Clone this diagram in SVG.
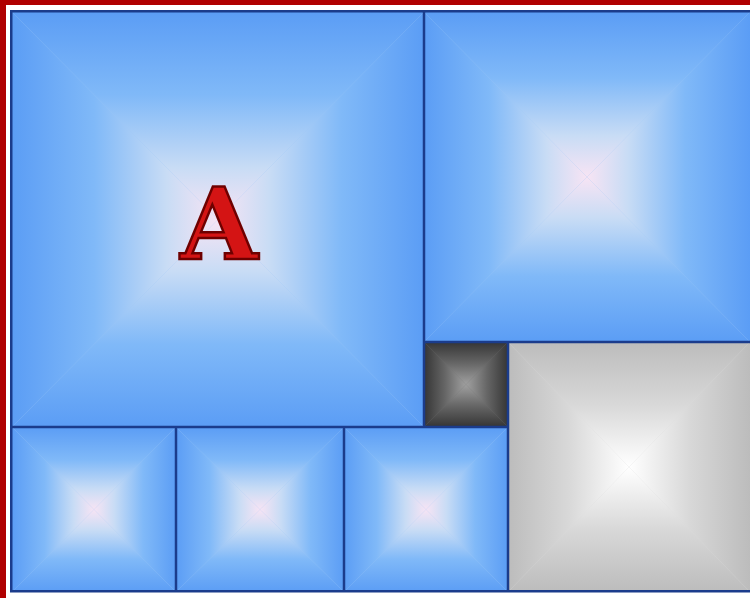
<svg xmlns="http://www.w3.org/2000/svg" width="750" height="598" viewBox="0 0 750 598">
<defs>
<linearGradient id="bT" x1="0" y1="0" x2="0" y2="1"><stop offset="0" stop-color="#5b9df5"/><stop offset="0.4" stop-color="#80b9f8"/><stop offset="0.75" stop-color="#c8dcf5"/><stop offset="1" stop-color="#f7e4f4"/></linearGradient>
<linearGradient id="bB" x1="0" y1="1" x2="0" y2="0"><stop offset="0" stop-color="#5b9df5"/><stop offset="0.4" stop-color="#80b9f8"/><stop offset="0.75" stop-color="#c8dcf5"/><stop offset="1" stop-color="#f7e4f4"/></linearGradient>
<linearGradient id="bL" x1="0" y1="0" x2="1" y2="0"><stop offset="0" stop-color="#5b9df5"/><stop offset="0.4" stop-color="#80b9f8"/><stop offset="0.75" stop-color="#c8dcf5"/><stop offset="1" stop-color="#f7e4f4"/></linearGradient>
<linearGradient id="bR" x1="1" y1="0" x2="0" y2="0"><stop offset="0" stop-color="#5b9df5"/><stop offset="0.4" stop-color="#80b9f8"/><stop offset="0.75" stop-color="#c8dcf5"/><stop offset="1" stop-color="#f7e4f4"/></linearGradient>
<linearGradient id="gT" x1="0" y1="0" x2="0" y2="1"><stop offset="0" stop-color="#bcbcbc"/><stop offset="0.5" stop-color="#d8d8d8"/><stop offset="1" stop-color="#ffffff"/></linearGradient>
<linearGradient id="gB" x1="0" y1="1" x2="0" y2="0"><stop offset="0" stop-color="#bcbcbc"/><stop offset="0.5" stop-color="#d8d8d8"/><stop offset="1" stop-color="#ffffff"/></linearGradient>
<linearGradient id="gL" x1="0" y1="0" x2="1" y2="0"><stop offset="0" stop-color="#bcbcbc"/><stop offset="0.5" stop-color="#d8d8d8"/><stop offset="1" stop-color="#ffffff"/></linearGradient>
<linearGradient id="gR" x1="1" y1="0" x2="0" y2="0"><stop offset="0" stop-color="#bcbcbc"/><stop offset="0.5" stop-color="#d8d8d8"/><stop offset="1" stop-color="#ffffff"/></linearGradient>
<linearGradient id="dT" x1="0" y1="0" x2="0" y2="1"><stop offset="0" stop-color="#353535"/><stop offset="0.5" stop-color="#666666"/><stop offset="1" stop-color="#a0a0a0"/></linearGradient>
<linearGradient id="dB" x1="0" y1="1" x2="0" y2="0"><stop offset="0" stop-color="#353535"/><stop offset="0.5" stop-color="#666666"/><stop offset="1" stop-color="#a0a0a0"/></linearGradient>
<linearGradient id="dL" x1="0" y1="0" x2="1" y2="0"><stop offset="0" stop-color="#353535"/><stop offset="0.5" stop-color="#666666"/><stop offset="1" stop-color="#a0a0a0"/></linearGradient>
<linearGradient id="dR" x1="1" y1="0" x2="0" y2="0"><stop offset="0" stop-color="#353535"/><stop offset="0.5" stop-color="#666666"/><stop offset="1" stop-color="#a0a0a0"/></linearGradient>
</defs>
<style>
.ln{stroke:#1b3c8c;stroke-width:2.5;fill:none}
.bb{fill:#9cc6f6}
.gb{fill:#dadada}
.db{fill:#6a6a6a}
polygon{stroke:none}
.lbl{font-family:"DejaVu Serif","Liberation Serif",serif;font-weight:bold;font-size:100px;fill:#d41414;stroke:#6e0000;stroke-width:2.5;text-anchor:middle}
</style>
<rect width="750" height="598" fill="#ffffff"/>
<rect x="0" y="0" width="750" height="5" fill="#b00000"/>
<rect x="0" y="0" width="6" height="598" fill="#b00000"/>

<g id="tileA">
<rect class="bb" x="12" y="12" width="412" height="415"/>
<polygon points="12,12 424,12 218,219.5" fill="url(#bT)"/>
<polygon points="12,427 424,427 218,219.5" fill="url(#bB)"/>
<polygon points="12,12 12,427 218,219.5" fill="url(#bL)"/>
<polygon points="424,12 424,427 218,219.5" fill="url(#bR)"/>
<text class="lbl" x="219" y="259">A</text>
</g>
<g id="tileTR">
<rect class="bb" x="424" y="12" width="326" height="330"/>
<polygon points="424,12 750,12 587,177" fill="url(#bT)"/>
<polygon points="424,342 750,342 587,177" fill="url(#bB)"/>
<polygon points="424,12 424,342 587,177" fill="url(#bL)"/>
<polygon points="750,12 750,342 587,177" fill="url(#bR)"/>
</g>
<g id="tileDark">
<rect class="db" x="424" y="342" width="84" height="85"/>
<polygon points="424,342 508,342 466,384.5" fill="url(#dT)"/>
<polygon points="424,427 508,427 466,384.5" fill="url(#dB)"/>
<polygon points="424,342 424,427 466,384.5" fill="url(#dL)"/>
<polygon points="508,342 508,427 466,384.5" fill="url(#dR)"/>
</g>
<g id="tileGray">
<rect class="gb" x="508" y="342" width="242" height="250"/>
<polygon points="508,342 750,342 629,467" fill="url(#gT)"/>
<polygon points="508,592 750,592 629,467" fill="url(#gB)"/>
<polygon points="508,342 508,592 629,467" fill="url(#gL)"/>
<polygon points="750,342 750,592 629,467" fill="url(#gR)"/>
</g>
<g id="tileB1">
<rect class="bb" x="12" y="427" width="164" height="165"/>
<polygon points="12,427 176,427 94,509.5" fill="url(#bT)"/>
<polygon points="12,592 176,592 94,509.5" fill="url(#bB)"/>
<polygon points="12,427 12,592 94,509.5" fill="url(#bL)"/>
<polygon points="176,427 176,592 94,509.5" fill="url(#bR)"/>
</g>
<g id="tileB2">
<rect class="bb" x="176" y="427" width="168" height="165"/>
<polygon points="176,427 344,427 260,509.5" fill="url(#bT)"/>
<polygon points="176,592 344,592 260,509.5" fill="url(#bB)"/>
<polygon points="176,427 176,592 260,509.5" fill="url(#bL)"/>
<polygon points="344,427 344,592 260,509.5" fill="url(#bR)"/>
</g>
<g id="tileB3">
<rect class="bb" x="344" y="427" width="164" height="165"/>
<polygon points="344,427 508,427 426,509.5" fill="url(#bT)"/>
<polygon points="344,592 508,592 426,509.5" fill="url(#bB)"/>
<polygon points="344,427 344,592 426,509.5" fill="url(#bL)"/>
<polygon points="508,427 508,592 426,509.5" fill="url(#bR)"/>
</g>

<g id="gridlines">
<rect class="ln" x="11.25" y="11.25" width="745" height="580"/>
<line class="ln" x1="424" y1="11" x2="424" y2="427"/>
<line class="ln" x1="11" y1="427" x2="508" y2="427"/>
<line class="ln" x1="424" y1="342" x2="750" y2="342"/>
<line class="ln" x1="508" y1="342" x2="508" y2="592"/>
<line class="ln" x1="176" y1="427" x2="176" y2="592"/>
<line class="ln" x1="344" y1="427" x2="344" y2="592"/>
</g>
</svg>
